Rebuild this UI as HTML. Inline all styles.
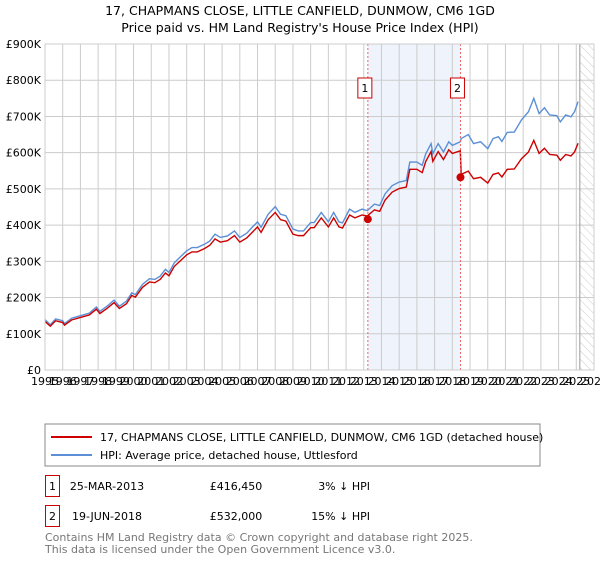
<!DOCTYPE html>
<html><head><meta charset="utf-8"><style>
body{margin:0;background:#fff;font-family:"DejaVu Sans","Liberation Sans",sans-serif;}
svg text{font-family:"DejaVu Sans","Liberation Sans",sans-serif;}
</style></head><body>
<svg id="c" width="600" height="560" viewBox="0 0 600 560" xmlns="http://www.w3.org/2000/svg">
<defs><pattern id="hatch" width="6" height="6" patternUnits="userSpaceOnUse" patternTransform="rotate(-45)"><line x1="0" y1="0" x2="0" y2="6" stroke="#ccc" stroke-width="1"/></pattern></defs>
<text x="300" y="15" text-anchor="middle" font-size="12.5" fill="#000">17, CHAPMANS CLOSE, LITTLE CANFIELD, DUNMOW, CM6 1GD</text>
<text x="300" y="32" text-anchor="middle" font-size="12.5" fill="#000">Price paid vs. HM Land Registry's House Price Index (HPI)</text>
<g id="plot"></g>
<rect x="45" y="424" width="495" height="42" fill="#fff" stroke="#888"/>
<line x1="51" y1="437" x2="92" y2="437" stroke="#cc0000" stroke-width="2"/>
<text x="100" y="441" font-size="11">17, CHAPMANS CLOSE, LITTLE CANFIELD, DUNMOW, CM6 1GD (detached house)</text>
<line x1="51" y1="455" x2="92" y2="455" stroke="#5b8fd6" stroke-width="2"/>
<text x="100" y="459" font-size="11">HPI: Average price, detached house, Uttlesford</text>
<g>
<rect x="45.5" y="475.5" width="14" height="21" fill="#fff" stroke="#cc0000"/>
<text x="52.5" y="490" text-anchor="middle" font-size="11">1</text>
<text x="107" y="490" text-anchor="middle" font-size="11">25-MAR-2013</text>
<text x="236" y="490" text-anchor="middle" font-size="11">£416,450</text>
<text x="370" y="490" text-anchor="end" font-size="11">3% ↓ HPI</text>
</g>
<g>
<rect x="45.5" y="505.5" width="14" height="21" fill="#fff" stroke="#cc0000"/>
<text x="52.5" y="520" text-anchor="middle" font-size="11">2</text>
<text x="107" y="520" text-anchor="middle" font-size="11">19-JUN-2018</text>
<text x="236" y="520" text-anchor="middle" font-size="11">£532,000</text>
<text x="370" y="520" text-anchor="end" font-size="11">15% ↓ HPI</text>
</g>
<text x="45" y="541" font-size="11" fill="#777">Contains HM Land Registry data © Crown copyright and database right 2025.</text>
<text x="45" y="553" font-size="11" fill="#777">This data is licensed under the Open Government Licence v3.0.</text>
</svg>
<script>
const yearTicks=[1995,1996,1997,1998,1999,2000,2001,2002,2003,2004,2005,2006,2007,2008,2009,2010,2011,2012,2013,2014,2015,2016,2017,2018,2019,2020,2021,2022,2023,2024,2025,2026];
const valueTicks=[0,100,200,300,400,500,600,700,800,900];
const valueLabels=["£0","£100K","£200K","£300K","£400K","£500K","£600K","£700K","£800K","£900K"];
const hpiDates=[1995.0,1995.3,1995.6,1996.0,1996.1,1996.5,1997.0,1997.5,1997.9,1998.1,1998.5,1998.9,1999.2,1999.6,1999.9,2000.1,2000.5,2000.9,2001.2,2001.5,2001.8,2002.0,2002.3,2002.7,2003.0,2003.3,2003.6,2004.0,2004.3,2004.6,2004.9,2005.3,2005.7,2006.0,2006.4,2006.7,2007.0,2007.2,2007.6,2008.0,2008.3,2008.6,2009.0,2009.3,2009.6,2010.0,2010.2,2010.6,2011.0,2011.3,2011.6,2011.8,2012.2,2012.5,2012.9,2013.2,2013.6,2013.9,2014.2,2014.6,2015.0,2015.4,2015.6,2016.0,2016.3,2016.5,2016.8,2016.9,2017.2,2017.5,2017.8,2018.0,2018.45,2018.5,2018.9,2019.2,2019.6,2020.0,2020.3,2020.6,2020.8,2021.1,2021.5,2021.9,2022.3,2022.6,2022.9,2023.2,2023.5,2023.9,2024.1,2024.4,2024.7,2024.9,2025.1];
const hpiValues=[139,125,141,136,128,143,150,157,174,162,176,193,176,190,213,208,236,252,250,259,278,269,296,315,329,338,338,347,356,375,366,370,384,366,378,394,409,394,430,451,430,426,389,384,384,407,407,435,409,435,409,406,444,435,444,440,458,454,486,509,519,523,574,574,565,597,625,597,625,602,630,620,630,639,650,625,630,611,639,644,631,656,657,690,713,750,708,724,704,702,685,704,699,713,741];
const priceValues=[134,121,136,131,124,138,145,152,168,156,170,186,170,183,206,201,228,243,241,250,268,260,286,304,318,326,326,335,344,362,353,357,371,353,365,380,395,380,415,435,415,411,375,371,371,393,393,420,395,420,395,392,428,420,428,425,442,438,469,491,501,505,554,554,545,576,603,576,603,581,608,598,605,540,549,528,532,516,540,544,533,554,555,583,602,634,598,612,595,593,579,595,591,602,626];
const saleDates=[2013.23,2018.46];
const saleValues=[416.45,532];
const saleLabels=["1","2"];
const x0=45,x1=594,y0=370,y1=44;
const X=t=>x0+(t-1995)/(2026-1995)*(x1-x0);
const Y=v=>y0-v/900*(y0-y1);
const NS="http://www.w3.org/2000/svg";
const g=document.getElementById('plot');
function mk(tag,attrs){const e=document.createElementNS(NS,tag);for(const k in attrs)e.setAttribute(k,attrs[k]);g.appendChild(e);return e;}
let e=mk('rect',{x:X(saleDates[0]),y:y1,width:X(saleDates[1])-X(saleDates[0]),height:y0-y1,fill:'#eef3fc'});


e=mk('rect',{x:X(2025.2),y:y1,width:x1-X(2025.2),height:y0-y1,fill:'url(#hatch)'});


yearTicks.forEach(t=>{const l=mk('line',{x1:X(t),x2:X(t),y1:y1,y2:y0,stroke:'#ccc'});


const tx=mk('text',{x:X(t),y:y0+15,'font-size':11,'text-anchor':'middle'});tx.textContent=t;

});
valueTicks.forEach((v,i)=>{const l=mk('line',{x1:x0,x2:x1,y1:Y(v),y2:Y(v),stroke:'#ccc'});


const tx=mk('text',{x:x0-4,y:Y(v)+4,'font-size':11,'text-anchor':'end'});tx.textContent=valueLabels[i];

});
e=mk('line',{x1:X(2025.2),x2:X(2025.2),y1:y1,y2:y0,stroke:'#999'});


e=mk('polyline',{points:hpiDates.map((d,i)=>X(d)+','+Y(hpiValues[i])).join(' '),fill:'none',stroke:'#5b8fd6','stroke-width':1.4});


e=mk('polyline',{points:hpiDates.map((d,i)=>X(d)+','+Y(priceValues[i])).join(' '),fill:'none',stroke:'#cc0000','stroke-width':1.4});


saleDates.forEach((d,i)=>{const l=mk('line',{x1:X(d),x2:X(d),y1:y1,y2:y0,stroke:'#e66','stroke-dasharray':'2,2'});


const c=mk('circle',{cx:X(d),cy:Y(saleValues[i]),r:4,fill:'#cc0000'});


const b=mk('rect',{x:X(d)-10,y:78,width:14,height:20,fill:'#fff',stroke:'#cc0000'});


const tx=mk('text',{x:X(d)-3,y:92,'font-size':11,'text-anchor':'middle'});tx.textContent=saleLabels[i];

});
e=mk('rect',{x:x0,y:y1,width:x1-x0,height:y0-y1,fill:'none',stroke:'#ccc'});


</script>
</body></html>
